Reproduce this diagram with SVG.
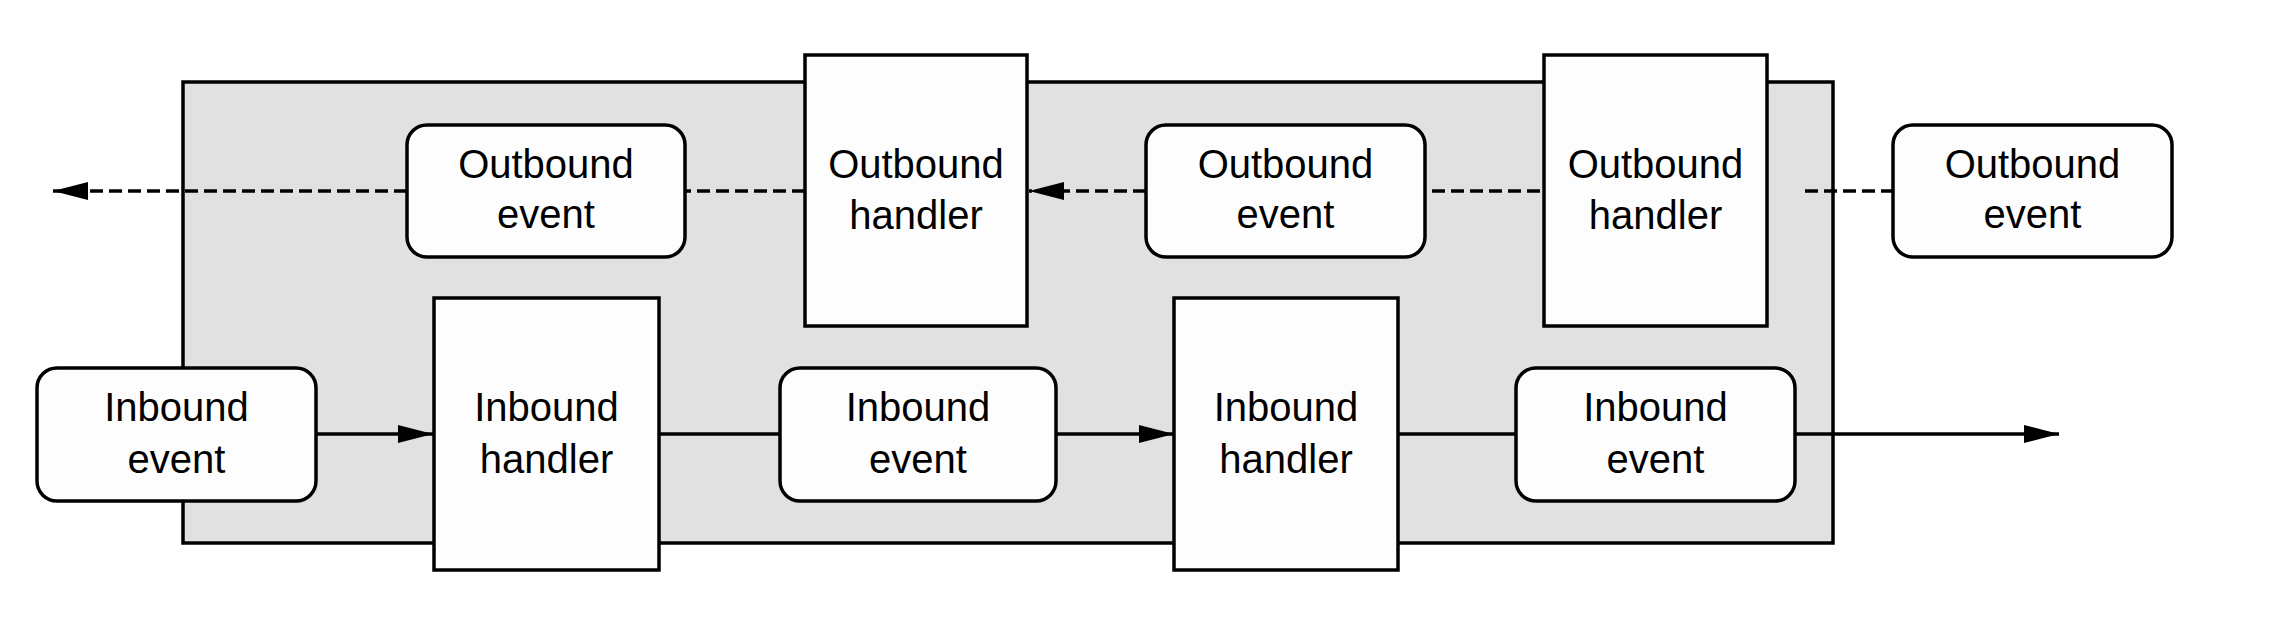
<svg xmlns="http://www.w3.org/2000/svg" width="2271" height="623" viewBox="0 0 2271 623">
<defs>
<style>
.container{fill:#e1e1e1;stroke:#000;stroke-width:3.5}
.box{fill:#fdfdfd;stroke:#000;stroke-width:3.5}
text{font-family:"Liberation Sans",Arial,sans-serif;font-size:40px;fill:#000;text-anchor:middle}
.solid{stroke:#000;stroke-width:3.5;fill:none}
.dash{stroke:#000;stroke-width:3.5;fill:none;stroke-dasharray:13 6}
</style>
<marker id="arrow" viewBox="0 0 35 18" refX="35" refY="9" markerWidth="35" markerHeight="18" markerUnits="userSpaceOnUse" orient="auto">
<polygon points="0,0 35,9 0,18" fill="#000"/>
</marker>
</defs>
<rect id="pipeline" class="container" x="183" y="82" width="1650" height="461"/>
<g id="connectors">
<path class="dash" d="M407,191 H53" marker-end="url(#arrow)"/>
<path class="dash" d="M805,191 H685"/>
<path class="dash" d="M1146,191 H1029" marker-end="url(#arrow)"/>
<path class="dash" d="M1432,191 H1544"/>
<path class="dash" d="M1805,191 H1893"/>
<path class="solid" d="M316,434 H433" marker-end="url(#arrow)"/>
<path class="solid" d="M659,434 H780"/>
<path class="solid" d="M1056,434 H1174" marker-end="url(#arrow)"/>
<path class="solid" d="M1398,434 H1516"/>
<path class="solid" d="M1795,434 H2059" marker-end="url(#arrow)"/>
</g>
<g id="outbound-event-1">
<rect class="box" x="407" y="125" width="278" height="132" rx="20"/>
<text x="546" y="178">Outbound</text><text x="546" y="228">event</text>
</g>
<g id="outbound-handler-1">
<rect class="box" x="805" y="55" width="222" height="271"/>
<text x="916" y="178">Outbound</text><text x="916" y="229">handler</text>
</g>
<g id="outbound-event-2">
<rect class="box" x="1146" y="125" width="279" height="132" rx="20"/>
<text x="1285.5" y="178">Outbound</text><text x="1285.5" y="228">event</text>
</g>
<g id="outbound-handler-2">
<rect class="box" x="1544" y="55" width="223" height="271"/>
<text x="1655.5" y="178">Outbound</text><text x="1655.5" y="229">handler</text>
</g>
<g id="outbound-event-3">
<rect class="box" x="1893" y="125" width="279" height="132" rx="20"/>
<text x="2032.5" y="178">Outbound</text><text x="2032.5" y="228">event</text>
</g>
<g id="inbound-event-1">
<rect class="box" x="37" y="368" width="279" height="133" rx="20"/>
<text x="176.5" y="421">Inbound</text><text x="176.5" y="473">event</text>
</g>
<g id="inbound-handler-1">
<rect class="box" x="434" y="298" width="225" height="272"/>
<text x="546.5" y="421">Inbound</text><text x="546.5" y="473">handler</text>
</g>
<g id="inbound-event-2">
<rect class="box" x="780" y="368" width="276" height="133" rx="20"/>
<text x="918" y="421">Inbound</text><text x="918" y="473">event</text>
</g>
<g id="inbound-handler-2">
<rect class="box" x="1174" y="298" width="224" height="272"/>
<text x="1286" y="421">Inbound</text><text x="1286" y="473">handler</text>
</g>
<g id="inbound-event-3">
<rect class="box" x="1516" y="368" width="279" height="133" rx="20"/>
<text x="1655.5" y="421">Inbound</text><text x="1655.5" y="473">event</text>
</g>
</svg>
